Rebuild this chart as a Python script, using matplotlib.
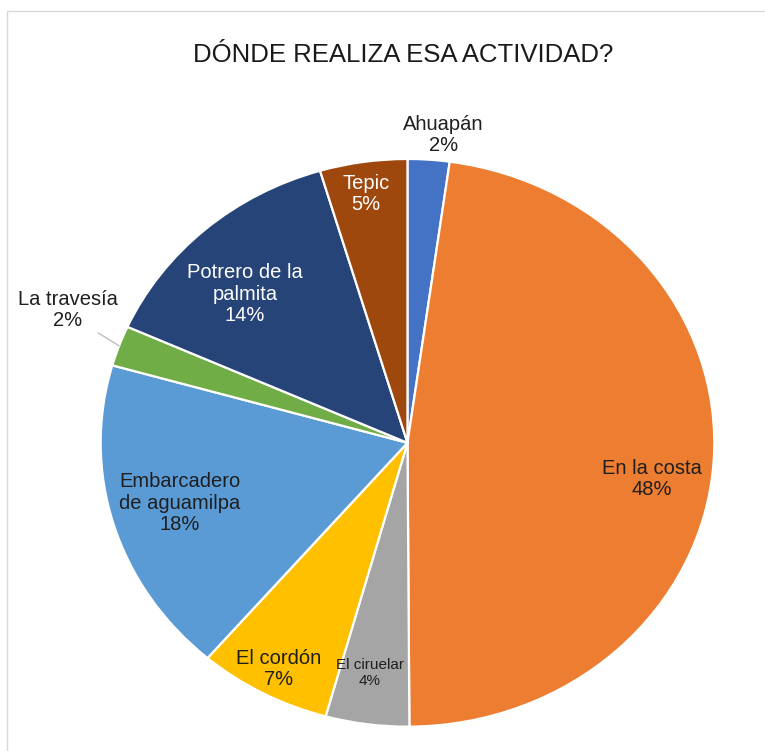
import matplotlib
matplotlib.use('Agg')
import matplotlib.pyplot as plt
from matplotlib.patches import Rectangle
import numpy as np

plt.rcParams['font.family'] = ['Liberation Sans', 'DejaVu Sans']

# data, clockwise from 12 o'clock
places = ['Ahuapán', 'En la costa', 'El ciruelar', 'El cordón',
          'Embarcadero\nde aguamilpa', 'La travesía', 'Potrero de la\npalmita', 'Tepic']
shares = [2.2, 47.7, 4.4, 7.0, 18.1, 2.3, 13.7, 4.6]
colors = ['#4472C4', '#ED7D31', '#A5A5A5', '#FFC000',
          '#5B9BD5', '#70AD47', '#264478', '#9E480E']

# label placement (axes data units, pie radius = 1)
label_pos = [(0.116, 1.084), (0.797, -0.127), (-0.122, -0.811), (-0.419, -0.797),
             (-0.742, -0.212), (-1.107, 0.468), (-0.530, 0.524), (-0.135, 0.876)]
label_col = ['#1f1f1f', '#1f1f1f', '#1f1f1f', '#1f1f1f',
             '#1f1f1f', '#1f1f1f', 'white', 'white']
label_size = [14.5, 14.5, 11, 14.5, 14.5, 14.5, 14.5, 14.5]

fig = plt.figure(figsize=(7.65, 7.51), dpi=100)
fig.patch.set_facecolor('white')

# light frame of the chart area (runs off right/bottom)
top = 1 - 10.5 / 751
fig.add_artist(Rectangle((7 / 765, -0.5), 2.0, top + 0.5,
                         transform=fig.transFigure, fill=False,
                         edgecolor='#D9D9D9', linewidth=1))

fig.text(0.527, 1 - 55 / 751, 'DÓNDE REALIZA ESA ACTIVIDAD?',
         ha='center', va='center', fontsize=18.5, color='#1a1a1a')

ax = fig.add_axes([0.1316, 0.0324, 0.8021, 0.7559])
wedges, _ = ax.pie(shares, colors=colors, startangle=90, counterclock=False,
                   wedgeprops=dict(edgecolor='white', linewidth=1.6))
ax.set_aspect('auto')
ax.set_xlim(-1, 1)
ax.set_ylim(-1, 1)
ax.axis('off')

for i, (w, name, val) in enumerate(zip(wedges, places, shares)):
    x, y = label_pos[i]
    txt = '%s\n%.0f%%' % (name, val)
    if name == 'La travesía':
        mid = np.deg2rad((w.theta1 + w.theta2) / 2)
        ax.annotate(txt, xy=(np.cos(mid), np.sin(mid)), xytext=(x, y),
                    ha='center', va='center', fontsize=label_size[i],
                    color=label_col[i], linespacing=1.15, annotation_clip=False,
                    arrowprops=dict(arrowstyle='-', color='#BFBFBF', lw=1,
                                    relpos=(0.68, 0.12), shrinkA=0, shrinkB=0))
    else:
        ax.text(x, y, txt, ha='center', va='center', fontsize=label_size[i],
                color=label_col[i], linespacing=1.15)

plt.savefig('out.png', dpi=100)
plt.close()
